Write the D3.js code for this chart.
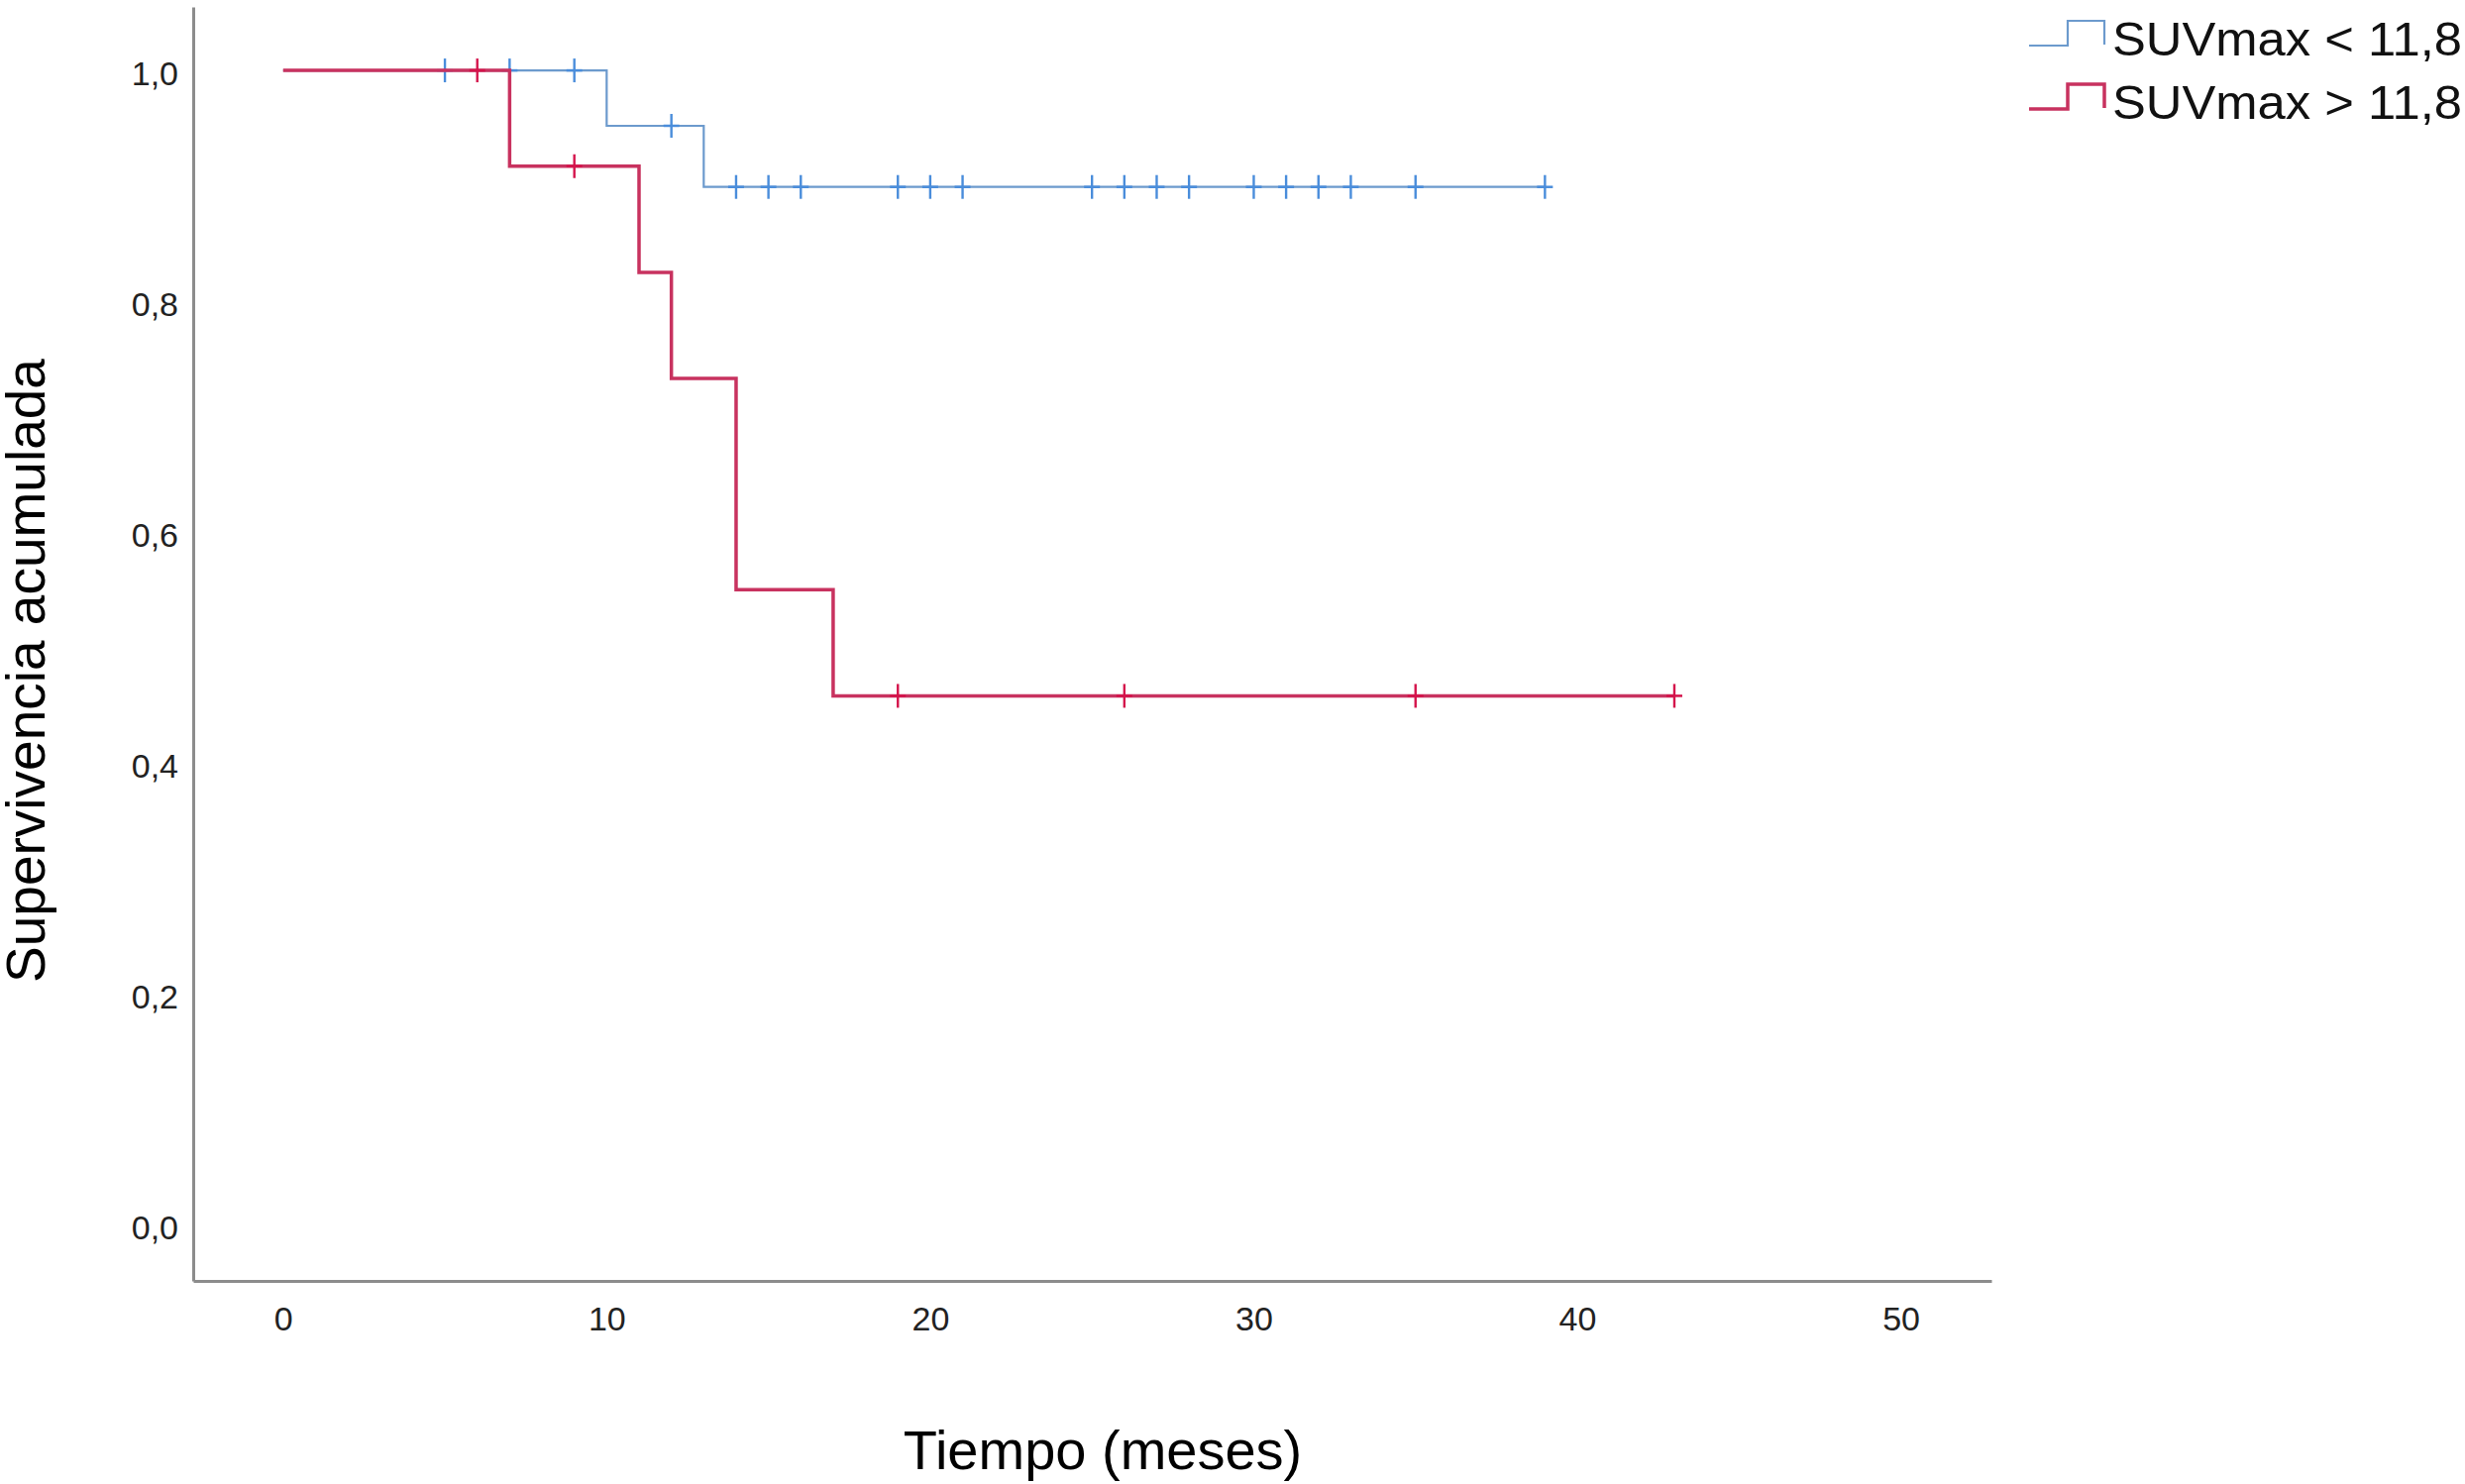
<!DOCTYPE html>
<html>
<head>
<meta charset="utf-8">
<script src="https://cdn.jsdelivr.net/npm/d3@7"></script>
<style>
  html, body { margin: 0; padding: 0; background: #fff; }
  svg { display: block; font-family: "Liberation Sans", Arial, sans-serif; }
</style>
</head>
<body>
<svg id="chart" width="2488" height="1498"></svg>
<script>
// tick labels
const xTicks = [0, 10, 20, 30, 40, 50];
const yTicks = [0, 0.2, 0.4, 0.6, 0.8, 1.0];

// group names
const groups = ["SUVmax < 11,8", "SUVmax > 11,8"];

// SUVmax < 11,8 : step times, survival after the step, censored times
const lowTimes = [0, 10, 13];
const lowSurv = [1.0, 0.952, 0.899];
const lowEnd = 39;
const lowCensored = [5, 7, 9, 12, 14, 15, 16, 19, 20, 21, 25, 26, 27, 28, 30, 31, 32, 33, 35, 39];

// SUVmax > 11,8
const highTimes = [0, 7, 11, 12, 14, 17];
const highSurv = [1.0, 0.917, 0.825, 0.733, 0.55, 0.458];
const highEnd = 43;
const highCensored = [6, 9, 19, 26, 35, 43];

const svg = d3.select("#chart");

const x = d3.scaleLinear()
    .domain([-2.78, 52.8])
    .range([195, 2010]);

const y = d3.scaleLinear()
    .domain([-0.049, 1.055])
    .range([1293, 7]);

const axisColor = "#8c8c8c";

// X axis
const gx = svg.append("g")
    .attr("transform", `translate(0, ${y.range()[0]})`)
    .call(d3.axisBottom(x).tickValues(xTicks).tickSize(0).tickPadding(26).tickFormat(d3.format("d")));
gx.select(".domain").attr("stroke", axisColor).attr("stroke-width", 3);
gx.selectAll("text")
    .attr("font-size", 34)
    .attr("fill", "#222")
    .attr("font-family", "Liberation Sans, Arial, sans-serif");

// Y axis
const gy = svg.append("g")
    .attr("transform", `translate(${x.range()[0]}, 0)`)
    .call(d3.axisLeft(y).tickValues(yTicks).tickSize(0).tickPadding(15)
        .tickFormat(d => d.toFixed(1).replace(".", ",")));
gy.select(".domain").attr("stroke", axisColor).attr("stroke-width", 3);
gy.selectAll("text")
    .attr("font-size", 34)
    .attr("fill", "#222")
    .attr("dy", "0.42em")
    .attr("font-family", "Liberation Sans, Arial, sans-serif");

// axis titles
svg.append("text")
    .attr("x", 1113)
    .attr("y", 1483)
    .attr("text-anchor", "middle")
    .attr("font-size", 56)
    .attr("fill", "#000")
    .text("Tiempo (meses)");

svg.append("text")
    .attr("transform", "translate(45, 677) rotate(-90)")
    .attr("text-anchor", "middle")
    .attr("font-size", 55)
    .attr("fill", "#000")
    .text("Supervivencia acumulada");

// survival level at time t
function survAt(times, surv, t) {
    let s = surv[0];
    times.forEach((tt, i) => { if (tt <= t) s = surv[i]; });
    return s;
}

const stepLine = d3.line()
    .x(d => x(d[0]))
    .y(d => y(d[1]))
    .curve(d3.curveStepAfter);

const series = [
    { name: groups[0], times: lowTimes, surv: lowSurv, end: lowEnd, cens: lowCensored,
      line: "#6c9acd", mark: "#4a8ddb", width: 2.2 },
    { name: groups[1], times: highTimes, surv: highSurv, end: highEnd, cens: highCensored,
      line: "#c8325f", mark: "#d4134b", width: 3.5 }
];

series.forEach(s => {
    const pts = s.times.map((t, i) => [t, s.surv[i]]);
    pts.push([s.end, s.surv[s.surv.length - 1]]);

    svg.append("path")
        .datum(pts)
        .attr("fill", "none")
        .attr("stroke", s.line)
        .attr("stroke-width", s.width)
        .attr("d", stepLine);

    // censor marks
    const g = svg.append("g");
    s.cens.forEach(t => {
        const cx = x(t), cy = y(survAt(s.times, s.surv, t));
        g.append("line")
            .attr("x1", cx).attr("x2", cx)
            .attr("y1", cy - 12).attr("y2", cy + 12)
            .attr("stroke", s.mark).attr("stroke-width", 2.4);
        g.append("line")
            .attr("x1", cx - 8).attr("x2", cx + 8)
            .attr("y1", cy).attr("y2", cy)
            .attr("stroke", s.mark).attr("stroke-width", 2.5);
    });
});

// legend
const legend = svg.append("g");
series.forEach((s, i) => {
    const by = 46 + i * 64;
    legend.append("path")
        .attr("fill", "none")
        .attr("stroke", s.line)
        .attr("stroke-width", s.width)
        .attr("d", `M2048,${by} H2087 V${by - 25} H2124 V${by - 1}`);
    legend.append("text")
        .attr("x", 2132)
        .attr("y", by + 10)
        .attr("font-size", 48)
        .attr("fill", "#111")
        .attr("textLength", 353)
        .attr("lengthAdjust", "spacingAndGlyphs")
        .text(s.name);
});
</script>
</body>
</html>
